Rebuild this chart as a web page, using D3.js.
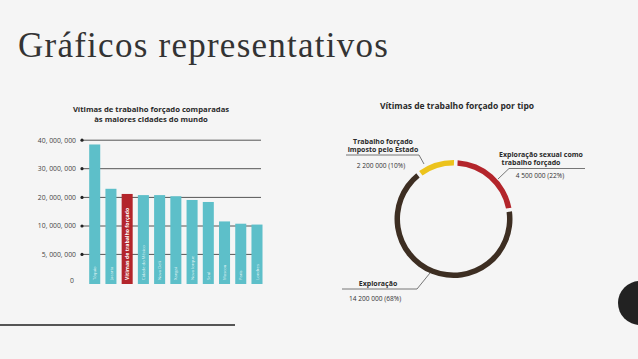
<!DOCTYPE html>
<html><head><meta charset="utf-8">
<script src="https://cdn.jsdelivr.net/npm/d3@7"></script>
<style>html,body{margin:0;padding:0;background:#f5f5f5;overflow:hidden}</style>
</head><body><svg id="c" width="638" height="359"></svg>
<script>
// ---- data ----
const cities = ["Tóquio","Jacarta","Vítimas de trabalho forçado","Cidade do México","Nova Deli","Xangai","Nova Iorque","Seul","Moscou","Paris","Londres"];
const population = [38.5e6,23.0e6,21.2e6,20.8e6,20.8e6,20.4e6,19.1e6,18.4e6,11.6e6,10.8e6,10.5e6];
const highlight = "Vítimas de trabalho forçado";
const yTicks = [0,5e6,10e6,20e6,30e6,40e6];
const yTickLabels = ["0","5, 000, 000","10, 000, 000","20, 000, 000","30, 000, 000","40, 000, 000"];
const types = ["Exploração sexual como trabalho forçado","Exploração","Trabalho forçado imposto pelo Estado"];
const victims = [4500000,14200000,2200000];
const victimLabels = ["4 500 000 (22%)","14 200 000 (68%)","2 200 000 (10%)"];
const typeColors = ["#b3252b","#3d2e22","#ecc31c"];

const svg = d3.select("#c");
svg.append("rect").attr("width",638).attr("height",359).attr("fill","#f5f5f5");

// slide title
svg.append("text").attr("x",18).attr("y",57).attr("font-family","Liberation Serif, serif")
  .attr("font-size",35).attr("letter-spacing",1.25).attr("fill","#333").text("Gráficos representativos");
svg.append("line").attr("x1",0).attr("x2",235).attr("y1",325).attr("y2",325).attr("stroke","#555").attr("stroke-width",2);
svg.append("circle").attr("cx",640).attr("cy",303).attr("r",22).attr("fill","#222");

const sans = "Open Sans, sans-serif";

// ---- bar chart ----
const y = d3.scaleLinear().domain(yTicks).range([283,254.4,226,197.4,168.7,140.2]);
const x = d3.scaleBand().domain(cities).range([86.6,265.1]).paddingInner(0.32).paddingOuter(0.16);

const bt = svg.append("text").attr("font-family",sans).attr("font-weight",700).attr("font-size",7.7).attr("fill","#2a2a2a").attr("text-anchor","middle");
bt.append("tspan").attr("x",151).attr("y",112).text("Vítimas de trabalho forçado comparadas");
bt.append("tspan").attr("x",151).attr("y",121.5).text("às maiores cidades do mundo");

const g = svg.append("g");
yTicks.forEach((t,i)=>{
  if(i>0){
    g.append("line").attr("x1",82).attr("x2",261).attr("y1",y(t)).attr("y2",y(t)).attr("stroke","#555").attr("stroke-width",1);
    g.append("circle").attr("cx",82).attr("cy",y(t)).attr("r",1.6).attr("fill","#222");
  }
  g.append("text").attr("x",i===0?74:76).attr("y",y(t)+(i===0?0:2.4)).attr("text-anchor","end")
    .attr("font-family",sans).attr("font-size",6.8).attr("fill","#444").text(yTickLabels[i]);
});
g.selectAll("rect.bar").data(cities).join("rect").attr("class","bar")
  .attr("x",d=>x(d)).attr("width",x.bandwidth())
  .attr("y",(d,i)=>y(population[i])).attr("height",(d,i)=>y(0)+1-y(population[i]))
  .attr("fill",d=>d===highlight?"#b3252b":"#5dbfc9");
g.selectAll("text.bl").data(cities).join("text").attr("class","bl")
  .attr("transform",d=>`translate(${x(d)+x.bandwidth()/2+1.6},280) rotate(-90)`)
  .attr("font-family",sans).attr("font-size",d=>d===highlight?5.2:4.2).attr("font-weight",d=>d===highlight?700:400)
  .attr("fill","#fff").attr("fill-opacity",d=>d===highlight?1:0.85).text(d=>d);

// ---- donut ----
const cx=453.5, cy=219;
svg.append("text").attr("x",457).attr("y",109).attr("text-anchor","middle").attr("font-family",sans)
  .attr("font-weight",700).attr("font-size",8.5).attr("fill","#2a2a2a").text("Vítimas de trabalho forçado por tipo");
const pie = d3.pie().sort(null).value(d=>d).startAngle(0.04).endAngle(Math.PI*2+0.04).padAngle(0.045);
const arc = d3.arc().innerRadius(53.5).outerRadius(59);
svg.append("g").attr("transform",`translate(${cx},${cy})`).selectAll("path").data(pie(victims)).join("path")
  .attr("d",arc).attr("fill",(d,i)=>typeColors[i]);

const lbl = (x0,yy,lines,anchorX)=>{
  const t = svg.append("text").attr("font-family",sans).attr("font-weight",700).attr("font-size",7).attr("fill","#2a2a2a").attr("text-anchor","middle");
  lines.forEach((l,i)=>t.append("tspan").attr("x",anchorX[i]).attr("y",yy+i*8.2).text(l));
};
const val = (xx,yy,s)=>svg.append("text").attr("x",xx).attr("y",yy).attr("text-anchor","middle").attr("font-family",sans)
  .attr("font-size",6.6).attr("fill","#333").text(s);
const leader = pts=>svg.append("path").attr("d",d3.line()(pts)).attr("fill","none").attr("stroke","#555").attr("stroke-width",0.8);

// state
lbl(0,144,["Trabalho forçado","imposto pelo Estado"],[383,383]);
leader([[346,155],[419,155],[424,164]]);
val(381,168,victimLabels[2]);
// sexual
lbl(0,157,["Exploração sexual como","trabalho forçado"],[541,531]);
leader([[498,179],[509,168.5],[585,168.5]]);
val(540,178,victimLabels[0]);
// exploitation
lbl(0,285.5,["Exploração"],[378]);
leader([[342,289],[417,289],[430,273]]);
val(375,300.5,victimLabels[1]);
</script></body></html>
